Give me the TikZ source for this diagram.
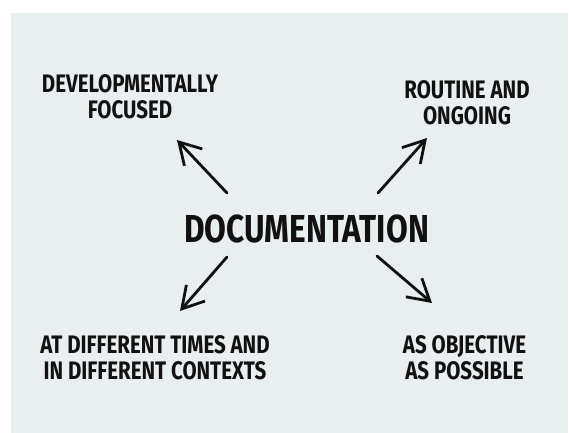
\documentclass[tikz,border=0pt]{standalone}
\usepackage{fontspec}
\newfontfamily\sketchfont[FakeStretch=0.81]{Fira Sans}
\usetikzlibrary{%
  arrows.meta,% Straight Barb
  positioning%
}
\definecolor{paper}{HTML}{E9EEF1}
\definecolor{ink}{HTML}{111111}

\begin{document}
\begin{tikzpicture}[x=0.02cm,y=-0.02cm,
	hub/.style={
	inner sep=0pt,text=ink,
	font=\sketchfont\bfseries\fontsize{22.2}{24}\selectfont
	},leaf/.style={
	inner sep=0pt,align=center,text=ink,
	font=\sketchfont\bfseries\fontsize{14.4}{15}\selectfont
	},spoke/.style={
	draw=ink,line width=1.6pt,line cap=round,line join=round,
	-{Straight Barb[length=12pt,width=14pt]}
	}
]

\useasboundingbox (0,0) rectangle (569,433);
\fill[paper] (11,13) rectangle (568,433);

% labels
\node (atomDoc) [hub] at (306.5,228.5) {DOCUMENTATION};
\node (atomDev) [leaf] at (130,97) {DEVELOPMENTALLY\\FOCUSED};
\node (atomRout) [leaf] at (467,102.5) {ROUTINE AND\\ONGOING};
\node (atomTimes) [leaf] at (155,357.5) {AT DIFFERENT TIMES AND\\IN DIFFERENT CONTEXTS};
\node (atomObj) [leaf] at (464.5,357.5) {AS OBJECTIVE\\AS POSSIBLE};

% arrow ends
\coordinate (POSA) at (227,193);
\coordinate (POSB) at (177,140);
\coordinate (POSC) at (378,193);
\coordinate (POSD) at (427,138);
\coordinate (POSE) at (227,257);
\coordinate (POSF) at (180,311);
\coordinate (POSG) at (377,256);
\coordinate (POSH) at (432,303);

\draw[spoke] (POSA) -- (POSB);
\draw[spoke] (POSC) -- (POSD);
\draw[spoke] (POSE) -- (POSF);
\draw[spoke] (POSG) -- (POSH);

\end{tikzpicture}
\end{document}
